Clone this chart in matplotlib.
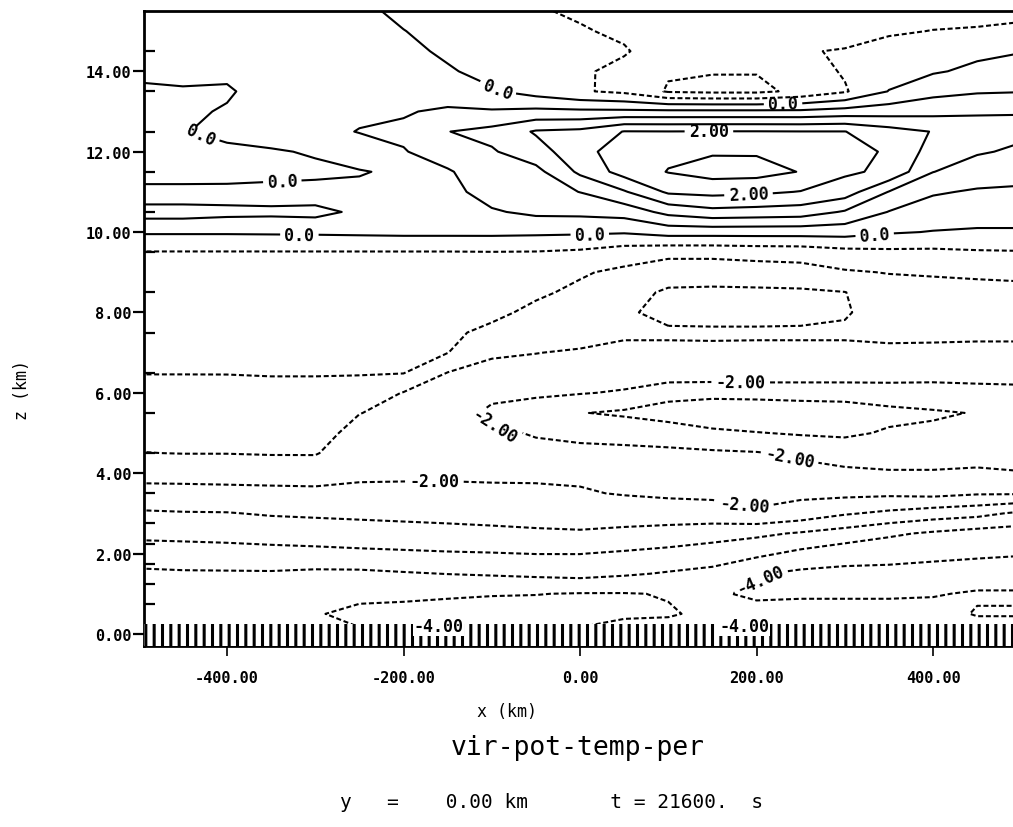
import numpy as np
import matplotlib
matplotlib.use("Agg")
import matplotlib.pyplot as plt
from matplotlib.ticker import FormatStrFormatter, NullLocator

# ---------------- data ----------------
x_km = [-500, -450, -400, -350, -300, -250, -200, -150, -100, -50, 0,
        50, 100, 150, 200, 250, 300, 350, 400, 450, 500]
z_km = [0.0, 0.5, 1.0, 1.5, 2.0, 2.5, 3.0, 3.5, 4.0, 4.5, 5.0, 5.5, 6.0, 6.5,
        7.0, 7.5, 8.0, 8.5, 9.0, 9.5, 10.0, 10.5, 11.0, 11.5, 12.0, 12.5,
        13.0, 13.5, 14.0, 14.5, 15.0, 15.5]

# virtual potential temperature perturbation (K), one profile per x column
theta_m500 = [-3.9, -3.79, -3.68, -3.57, -3.3, -2.85, -2.56, -2.18, -1.82, -1.51,
              -1.37, -1.24, -1.11, -0.99, -0.91, -0.82, -0.74, -0.66, -0.58, -0.52,
              0.06, -0.03, 0.05, -0.08, -0.12, -0.1, -0.08, -0.04, 0.05, 0.1, 0.12, 0.12]
theta_m450 = [-3.9, -3.78, -3.66, -3.55, -3.26, -2.83, -2.53, -2.16, -1.82, -1.49,
              -1.37, -1.24, -1.11, -0.99, -0.91, -0.82, -0.74, -0.66, -0.58, -0.52,
              0.06, -0.03, 0.05, -0.08, -0.06, -0.01, -0.06, -0.02, 0.06, 0.1, 0.12, 0.12]
theta_m400 = [-3.9, -3.78, -3.65, -3.55, -3.22, -2.81, -2.52, -2.15, -1.8, -1.49,
              -1.36, -1.23, -1.1, -0.99, -0.91, -0.82, -0.74, -0.66, -0.58, -0.52,
              0.06, -0.02, 0.04, -0.06, -0.04, 0.05, 0.03, -0.04, 0.07, 0.1, 0.12, 0.12]
theta_m350 = [-3.92, -3.8, -3.67, -3.55, -3.17, -2.78, -2.46, -2.13, -1.79, -1.47,
              -1.34, -1.22, -1.09, -0.98, -0.9, -0.82, -0.74, -0.66, -0.58, -0.52,
              0.07, -0.02, 0.05, -0.05, -0.02, 0.1, 0.15, 0.15, 0.15, 0.12, 0.12, 0.12]
theta_m300 = [-3.95, -3.97, -3.8, -3.6, -3.14, -2.75, -2.43, -2.12, -1.77, -1.47,
              -1.34, -1.21, -1.09, -0.98, -0.9, -0.82, -0.74, -0.66, -0.58, -0.52,
              0.08, -0.03, 0.06, -0.04, 0.02, 0.35, 0.3, 0.25, 0.2, 0.15, 0.12, 0.12]
theta_m250 = [-3.95, -4.1, -3.9, -3.6, -3.1, -2.72, -2.4, -2.11, -1.91, -1.78,
              -1.64, -1.49, -1.2, -0.97, -0.9, -0.82, -0.74, -0.66, -0.58, -0.52,
              0.1, 0.02, 0.1, -0.03, 0.25, 0.52, 0.4, 0.3, 0.25, 0.18, 0.12, 0.1]
theta_m200 = [-4.2, -4.15, -3.9, -3.54, -3.07, -2.69, -2.37, -2.1, -1.93, -1.83,
              -1.72, -1.62, -1.52, -0.98, -0.9, -0.82, -0.74, -0.66, -0.58, -0.52,
              0.12, 0.2, 0.15, 0.08, 0.47, 0.6, 0.45, 0.3, 0.2, 0.12, 0.01, -0.1]
theta_m150 = [-4.2, -4.15, -3.95, -3.49, -3.04, -2.65, -2.35, -2.09, -1.94, -1.86,
              -1.77, -1.69, -1.6, -1.51, -0.99, -0.92, -0.84, -0.76, -0.67, -0.52,
              0.12, 0.25, 0.35, 0.45, 0.75, 0.99, 0.6, 0.15, 0.05, -0.08, -0.15, -0.2]
theta_m100 = [-4.2, -4.15, -3.98, -3.45, -3.02, -2.61, -2.33, -2.09, -1.92, -1.88,
              -1.93, -2.12, -1.85, -1.66, -1.43, -1.1, -0.9, -0.77, -0.64, -0.51,
              0.12, 0.45, 0.7, 0.8, 0.95, 1.15, 0.55, 0.05, -0.15, -0.25, -0.3, -0.35]
theta_m050 = [-4.2, -4.15, -3.99, -3.4, -2.99, -2.57, -2.31, -2.08, -1.92, -1.9,
              -2.03, -2.3, -1.9, -1.68, -1.49, -1.3, -1.1, -0.93, -0.73, -0.52,
              0.1, 0.6, 0.78, 0.85, 1.3, 1.55, 0.62, -0.2, -0.3, -0.38, -0.43, -0.45]
theta_p000 = [-3.95, -4.1, -4.02, -3.35, -2.99, -2.55, -2.28, -2.04, -1.92, -1.9,
              -2.1, -2.48, -1.97, -1.78, -1.55, -1.3, -1.18, -1.09, -0.95, -0.58,
              0.08, 0.62, 1.01, 1.6, 1.8, 1.62, 0.6, -0.45, -0.42, -0.42, -0.45, -0.58]
theta_p050 = [-3.85, -4.05, -4.02, -3.44, -3.06, -2.61, -2.27, -1.97, -1.88, -1.9,
              -2.15, -2.58, -2.05, -1.75, -1.58, -1.45, -1.45, -1.35, -1.1, -0.75,
              0.05, 0.7, 1.45, 2.2, 2.3, 2.02, 0.6, -0.6, -0.65, -0.45, -0.6, -0.7]
theta_p100 = [-3.85, -4.03, -3.98, -3.54, -3.14, -2.69, -2.24, -1.92, -1.85, -1.92,
              -2.2, -2.75, -2.3, -1.72, -1.58, -1.45, -1.6, -1.56, -1.3, -0.85,
              0.2, 1.15, 2.08, 2.52, 2.4, 2.01, 0.6, -1.05, -0.95, -0.8, -0.75, -0.75]
theta_p150 = [-3.85, -3.93, -3.96, -3.63, -3.25, -2.79, -2.2, -1.9, -1.82, -1.93,
              -2.4, -2.85, -2.35, -1.7, -1.57, -1.45, -1.62, -1.58, -1.3, -0.85,
              0.2, 1.35, 2.15, 2.7, 2.45, 2.02, 0.6, -1.1, -0.98, -0.85, -0.78, -0.78]
theta_p200 = [-3.85, -3.9, -4.05, -3.96, -3.39, -2.9, -2.05, -1.88, -1.82, -1.97,
              -2.48, -2.9, -2.3, -1.72, -1.58, -1.45, -1.62, -1.58, -1.25, -0.8,
              0.2, 1.3, 2.1, 2.68, 2.45, 2.02, 0.6, -1.1, -0.98, -0.85, -0.8, -0.8]
theta_p250 = [-3.85, -3.85, -4.05, -4.1, -3.62, -3.05, -2.2, -1.9, -1.85, -2.08,
              -2.55, -2.8, -2.3, -1.72, -1.58, -1.45, -1.6, -1.57, -1.2, -0.78,
              0.2, 1.25, 1.98, 2.48, 2.4, 2.01, 0.6, -0.9, -0.75, -0.52, -0.7, -0.8]
theta_p300 = [-3.85, -3.85, -4.05, -4.12, -3.8, -3.21, -2.45, -1.88, -1.9, -2.22,
              -2.58, -2.75, -2.3, -1.72, -1.58, -1.45, -1.53, -1.51, -1.05, -0.65,
              0.2, 0.95, 1.75, 2.08, 2.15, 2.01, 0.7, -0.55, -0.45, -0.48, -0.62, -0.7]
theta_p350 = [-3.85, -3.85, -4.05, -4.12, -3.85, -3.42, -2.6, -1.9, -1.95, -2.25,
              -2.45, -2.62, -2.25, -1.75, -1.57, -1.42, -1.35, -1.22, -0.98, -0.6,
              0.05, 0.48, 0.98, 1.9, 1.95, 1.7, 0.78, 0.02, -0.25, -0.35, -0.55, -0.7]
theta_p400 = [-3.85, -3.9, -4.02, -4.12, -3.92, -3.57, -2.75, -1.85, -1.95, -2.25,
              -2.42, -2.55, -2.22, -1.8, -1.58, -1.42, -1.32, -1.18, -0.95, -0.6,
              -0.02, 0.28, 0.55, 1.01, 1.3, 1.48, 0.85, 0.35, -0.05, -0.25, -0.49, -0.65]
theta_p450 = [-3.85, -4.02, -3.97, -4.15, -3.95, -3.7, -2.85, -1.95, -1.92, -2.2,
              -2.4, -2.48, -2.15, -1.82, -1.6, -1.42, -1.3, -1.15, -0.92, -0.55,
              -0.05, 0.2, 0.45, 0.75, 1.05, 1.2, 0.95, 0.45, 0.1, -0.1, -0.46, -0.65]
theta_p500 = [-3.85, -4.02, -3.97, -4.15, -3.98, -3.75, -3.1, -1.95, -1.97, -2.25,
              -2.38, -2.42, -2.12, -1.82, -1.6, -1.42, -1.28, -1.12, -0.9, -0.53,
              -0.05, 0.2, 0.42, 0.68, 0.92, 1.1, 0.98, 0.48, 0.2, -0.02, -0.4, -0.62]

contour_levels = [-4.0, -3.5, -3.0, -2.5, -2.0, -1.5, -1.0, -0.5,
                  0.0, 0.5, 1.0, 1.5, 2.0, 2.5]
labelled_levels = [-4.0, -2.0, 0.0, 2.0]
label_text = {-4.0: "-4.00", -2.0: "-2.00", 0.0: "0.0", 2.0: "2.00"}
label_positions = [(-431, 12.3), (-337, 11.1), (-318, 9.95), (-92, 13.6),
                   (11, 9.95), (230, 13.2), (334, 9.88), (146, 12.55),
                   (191, 10.85), (182, 6.2), (-97, 5.2), (237, 4.35),
                   (-165, 3.68), (186, 3.12), (203, 1.4)]
# "-4.00" labels that sit on the surface layer
surface_label_x = [-160, 186]

x_ticks = [-400, -200, 0, 200, 400]
z_ticks = [0, 2, 4, 6, 8, 10, 12, 14]
model_levels = [0.75, 1.25, 1.75, 2.25, 2.75, 3.5, 4.5, 5.5, 6.5, 7.5, 8.5,
                9.5, 10.5, 11.5, 12.5, 13.5, 14.5]
surface_layer = (-0.3, 0.25)
x_range = (-494, 494)
z_range = (-0.3, 15.5)

# ---------------- figure ----------------
plt.rcParams["font.family"] = ["DejaVu Sans Mono", "DejaVu Sans"]
plt.rcParams["hatch.linewidth"] = 2.2

field = np.column_stack([theta_m500, theta_m450, theta_m400, theta_m350,
                         theta_m300, theta_m250, theta_m200, theta_m150,
                         theta_m100, theta_m050, theta_p000, theta_p050,
                         theta_p100, theta_p150, theta_p200, theta_p250,
                         theta_p300, theta_p350, theta_p400, theta_p450,
                         theta_p500])

fig = plt.figure(figsize=(10.13, 8.28), dpi=100)
ax = fig.add_axes([0.1422, 0.2186, 0.8608, 0.7669])

plain_levels = [lv for lv in contour_levels if lv not in labelled_levels]


def style_for(levels):
    return [(0, (2.4, 1.3)) if lv < 0 else "solid" for lv in levels]


ax.contour(x_km, z_km, field, levels=plain_levels, colors="black",
           linewidths=1.5, linestyles=style_for(plain_levels))
cs_lab = ax.contour(x_km, z_km, field, levels=labelled_levels, colors="black",
                    linewidths=1.5, linestyles=style_for(labelled_levels))
texts = cs_lab.clabel(fmt=label_text, inline=True, inline_spacing=4,
                      fontsize=12, manual=label_positions)
for t in texts:
    t.set_fontweight("bold")

ax.axhspan(surface_layer[0], surface_layer[1], facecolor="white",
           edgecolor="black", hatch="||", linewidth=0, zorder=3)
for xs in surface_label_x:
    ax.text(xs, surface_layer[1] - 0.05, label_text[-4.0], ha="center",
            va="center", fontsize=12, fontweight="bold", zorder=4,
            bbox=dict(facecolor="white", edgecolor="none", pad=0.5))

ax.set_xlim(*x_range)
ax.set_ylim(*z_range)

ax.set_xticks(x_ticks)
ax.set_yticks(z_ticks)
ax.set_yticks(model_levels, minor=True)
ax.xaxis.set_minor_locator(NullLocator())
ax.xaxis.set_major_formatter(FormatStrFormatter("%.2f"))
ax.yaxis.set_major_formatter(FormatStrFormatter("%.2f"))
ax.tick_params(axis="x", which="major", direction="out", length=7, width=1.2,
               pad=10, labelsize=11)
ax.tick_params(axis="y", which="major", direction="out", length=8, width=1.6,
               pad=1, labelsize=11)
ax.tick_params(axis="y", which="minor", direction="in", length=8, width=1.6)
for lab in ax.get_xticklabels() + ax.get_yticklabels():
    lab.set_fontweight("bold")
for side in ["left", "top", "bottom", "right"]:
    ax.spines[side].set_linewidth(2.0)

fig.text(22 / 1013, 1 - 390 / 828, "z (km)", rotation=90, ha="center",
         va="center", fontsize=12)
fig.text(507 / 1013, 1 - 712 / 828, "x (km)", ha="center", va="center",
         fontsize=12)
fig.text(578 / 1013, 1 - 748 / 828, "vir-pot-temp-per", ha="center",
         va="center", fontsize=19)
fig.text(551 / 1013, 1 - 803 / 828, "y   =    0.00 km       t = 21600.  s",
         ha="center", va="center", fontsize=14)

fig.savefig("out.png", dpi=100)
